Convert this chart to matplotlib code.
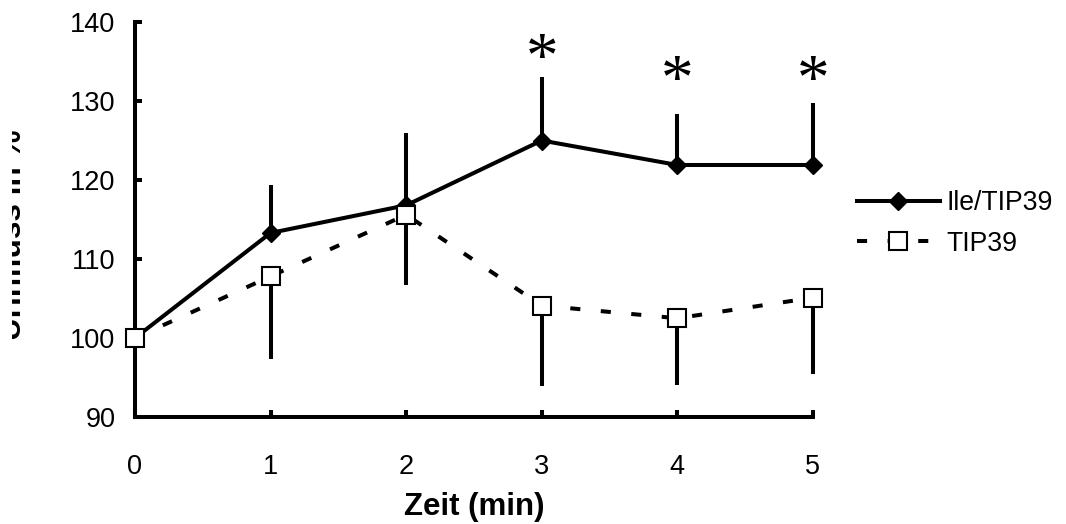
import matplotlib
matplotlib.use("Agg")
import matplotlib.pyplot as plt
from matplotlib.transforms import Bbox, TransformedBbox

plt.rcParams["font.family"] = ["Liberation Sans", "DejaVu Sans"]

# data
minutes = [0, 1, 2, 3, 4, 5]
ile_tip39 = [100, 113.3, 116.8, 125.0, 121.9, 121.9]
ile_tip39_err = [0, 6.1, 9.1, 8.0, 6.4, 7.8]      # upper bars only
tip39 = [100, 107.8, 115.6, 104.1, 102.5, 105.1]
tip39_err = [0, 10.4, 8.9, 10.2, 8.5, 9.6]        # lower bars only
star_x = [3, 4, 5]
star_y = [136.6, 133.8, 133.8]

lw = 2.9
fig = plt.figure(figsize=(10.66, 5.24), dpi=100)
ax = fig.add_axes([0.1266, 0.2042, 0.6360, 0.7538])

zeros = [0] * len(minutes)
ax.errorbar(minutes, ile_tip39, yerr=[zeros, ile_tip39_err], fmt="none",
            ecolor="black", elinewidth=lw, capsize=0, clip_on=False, zorder=2)
ax.errorbar(minutes, tip39, yerr=[tip39_err, zeros], fmt="none",
            ecolor="black", elinewidth=lw, capsize=0, clip_on=False, zorder=2)

ax.plot(minutes, ile_tip39, color="black", lw=lw, marker="D", ms=9,
        mfc="black", mec="black", label="Ile/TIP39", clip_on=False, zorder=3)
ax.plot(minutes, tip39, color="black", lw=lw, ls=(0, (2.5, 5.1)), marker="s",
        ms=13.5, mfc="white", mec="black", mew=1.5, label="TIP39",
        clip_on=False, zorder=4)

# significance stars; the glyph sits high in its box, so shift it down a bit
for sx, sy in zip(star_x, star_y):
    ax.annotate("*", (sx, sy), xytext=(0, -9), textcoords="offset points",
                ha="center", va="center", fontsize=47,
                family="Liberation Serif", color="black")

ax.set_xlim(0, 5)
ax.set_ylim(90, 140)
ax.set_xticks(minutes)
ax.set_yticks(range(90, 141, 10))
for side in ["top", "right"]:
    ax.spines[side].set_visible(False)
for side in ["left", "bottom"]:
    ax.spines[side].set_linewidth(lw)
ax.tick_params(direction="in", length=5, width=lw, labelsize=19.5)
ax.tick_params(axis="x", pad=27)
ax.tick_params(axis="y", pad=14)

ax.set_xlabel("Zeit (min)", fontsize=22.5, fontweight="bold", labelpad=8)

# y label is cut off at the left edge in the reference
ylab = fig.text(28 / 1066, 1 - 235 / 524, "Urinfluss in %", rotation=90,
                ha="right", va="center", fontsize=22.7, fontweight="bold")
ylab.set_clip_on(True)
ylab.set_clip_box(TransformedBbox(Bbox([[12 / 1066, 0], [1, 1]]), fig.transFigure))

ax.legend(loc="upper left", bbox_to_anchor=(857 / 1066, 1 - 190 / 524),
          bbox_transform=fig.transFigure, frameon=False, fontsize=19.2,
          handlelength=3.1, handletextpad=0.25, labelspacing=0.55,
          borderpad=0, borderaxespad=0)

fig.savefig("out.png", dpi=100)
